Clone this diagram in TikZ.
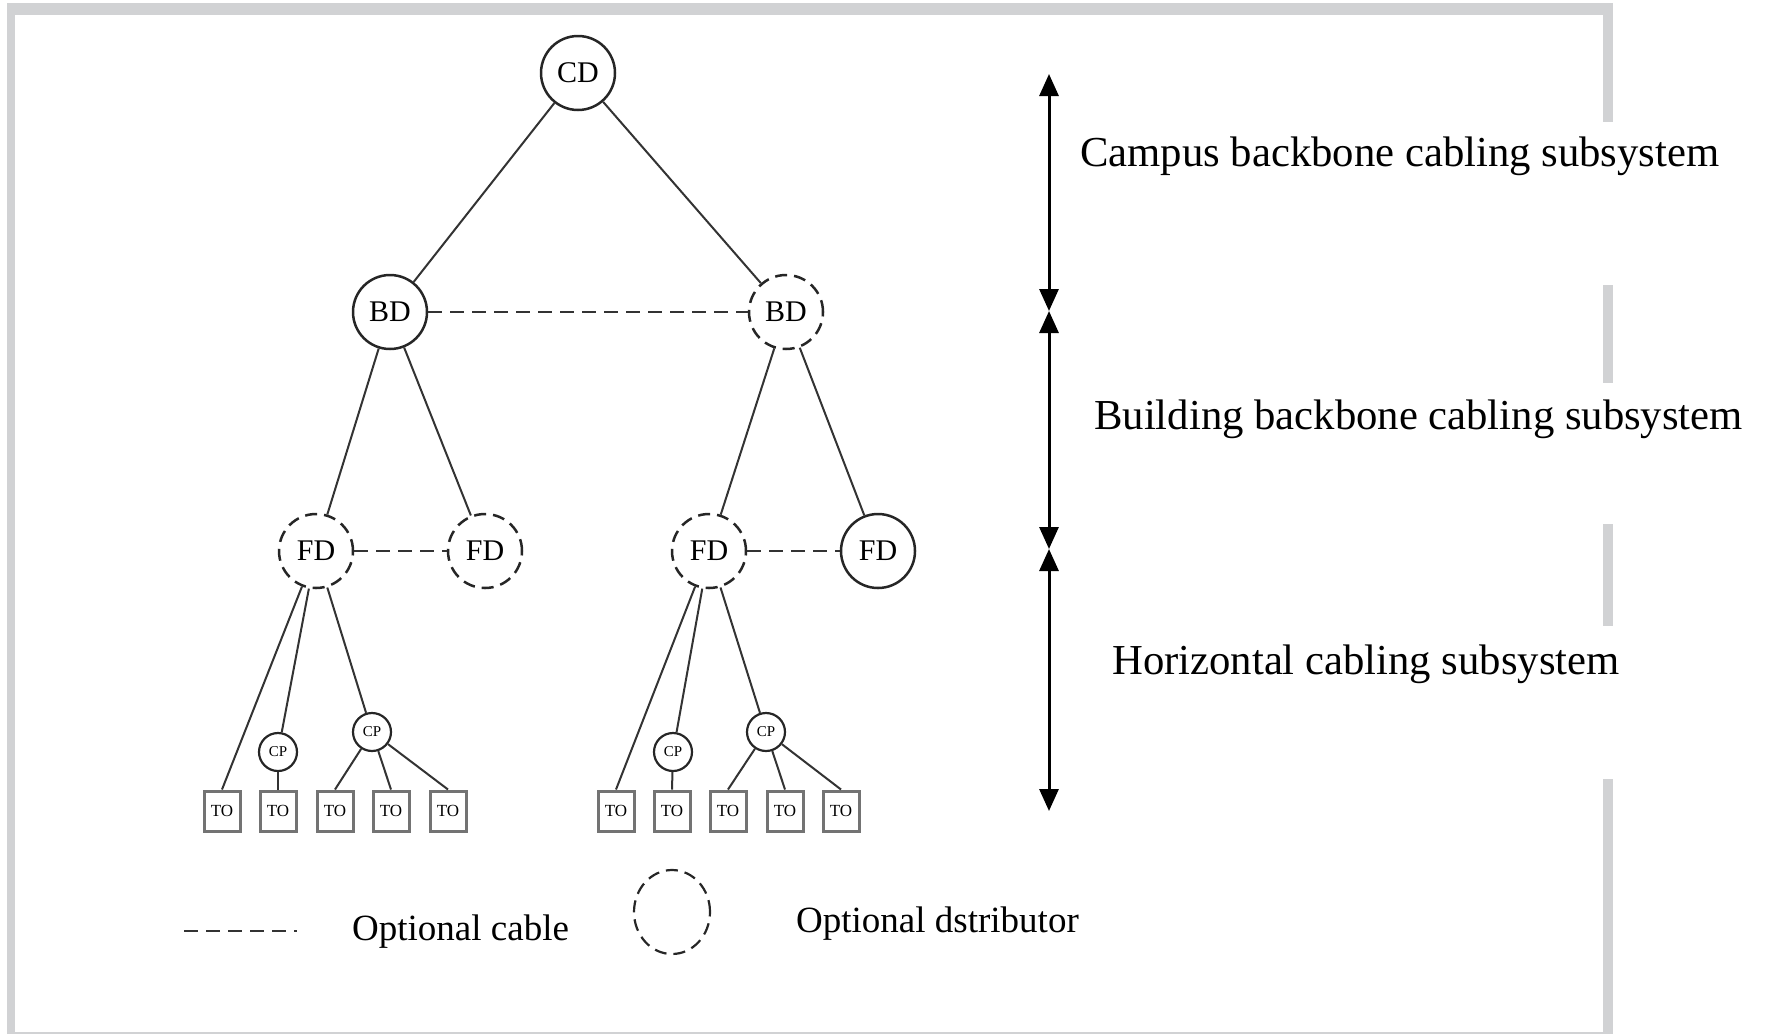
\documentclass[tikz,border=0pt]{standalone}
\usepackage{fontspec}
\setmainfont{Liberation Serif}
\usetikzlibrary{arrows.meta,shapes.geometric}
\definecolor{frameg}{HTML}{D1D2D4}
\begin{document}
\begin{tikzpicture}[x=1pt,y=-1pt,
 dist/.style={circle,draw=black!85,line width=2.5pt,minimum size=74pt,inner sep=0pt,font=\fontsize{30}{32}\selectfont},
 optd/.style={dist,dash pattern=on 12pt off 7pt},
 cpn/.style={circle,draw=black!85,line width=2.2pt,minimum size=38pt,inner sep=0pt,font=\fontsize{15}{17}\selectfont},
 tobox/.style={rectangle,draw=black!55,line width=3pt,minimum width=36pt,minimum height=40pt,inner sep=0pt,font=\fontsize{17}{19}\selectfont},
 cable/.style={draw=black!80,line width=2pt},
 optc/.style={cable,dash pattern=on 14pt off 8pt,line width=2.6pt},
 lbl/.style={anchor=west,inner sep=0pt,font=\fontsize{42.7}{50}\selectfont},
 leg/.style={anchor=west,inner sep=0pt,font=\fontsize{37}{44}\selectfont},
 spanarrow/.style={line width=3pt,{Triangle[width=19pt,length=22pt]}-{Triangle[width=19pt,length=22pt]}},
 framebar/.style={fill=frameg,draw=none}
]
\useasboundingbox (0,0) rectangle (1768,1034);
% frame
\fill[framebar] (7,3) rectangle (1613,15);
\fill[framebar] (7,3) rectangle (15,1034);
\fill[framebar] (7,1032) rectangle (1613,1034);
\fill[framebar] (1603,3) rectangle (1613,122);
\fill[framebar] (1603,285) rectangle (1613,383);
\fill[framebar] (1603,524) rectangle (1613,626);
\fill[framebar] (1603,779) rectangle (1613,1034);

% distributors
\node[dist] (CD) at (578,73) {CD};
\node[dist] (BDL) at (390,312) {BD};
\node[optd] (BDR) at (786,312) {BD};
\node[optd] (FD1) at (316,551) {FD};
\node[optd] (FD2) at (485,551) {FD};
\node[optd] (FD3) at (709,551) {FD};
\node[dist] (FD4) at (878,551) {FD};

% consolidation points
\node[cpn] (CPa) at (278,752) {CP};
\node[cpn] (CPb) at (372,732) {CP};
\node[cpn] (CPc) at (673,752) {CP};
\node[cpn] (CPd) at (766,732) {CP};

% telecommunication outlets
\node[tobox] (T1) at (222,811) {TO};
\node[tobox] (T2) at (278,811) {TO};
\node[tobox] (T3) at (335,811) {TO};
\node[tobox] (T4) at (391,811) {TO};
\node[tobox] (T5) at (448,811) {TO};
\node[tobox] (T6) at (616,811) {TO};
\node[tobox] (T7) at (672,811) {TO};
\node[tobox] (T8) at (728,811) {TO};
\node[tobox] (T9) at (785,811) {TO};
\node[tobox] (T10) at (841,811) {TO};

% cables
\draw[cable] (CD) -- (BDL);
\draw[cable] (CD) -- (BDR);
\draw[optc] (BDL) -- (BDR);
\draw[cable] (BDL) -- (FD1);
\draw[cable] (BDL) -- (FD2);
\draw[cable] (BDR) -- (FD3);
\draw[cable] (BDR) -- (FD4);
\draw[optc] (FD1) -- (FD2);
\draw[optc] (FD3) -- (FD4);

\draw[cable] (FD1) -- (T1.north);
\draw[cable] (FD1) -- (CPa);
\draw[cable] (FD1) -- (CPb);
\draw[cable] (CPa) -- (T2.north);
\draw[cable] (CPb) -- (T3.north);
\draw[cable] (CPb) -- (T4.north);
\draw[cable] (CPb) -- (T5.north);

\draw[cable] (FD3) -- (T6.north);
\draw[cable] (FD3) -- (CPc);
\draw[cable] (FD3) -- (CPd);
\draw[cable] (CPc) -- (T7.north);
\draw[cable] (CPd) -- (T8.north);
\draw[cable] (CPd) -- (T9.north);
\draw[cable] (CPd) -- (T10.north);

% subsystem span arrows
\coordinate (A0) at (1049,74);
\coordinate (A1) at (1049,311);
\coordinate (A2) at (1049,549);
\coordinate (A3) at (1049,811);
\draw[spanarrow] (A0) -- (A1);
\draw[spanarrow] (A1) -- (A2);
\draw[spanarrow] (A2) -- (A3);

\node[lbl] (L1) at (1080,156) {Campus backbone cabling subsystem};
\node[lbl] (L2) at (1094,419) {Building backbone cabling subsystem};
\node[lbl] (L3) at (1112,664) {Horizontal cabling subsystem};

% legend
\coordinate (G0) at (184,931);
\coordinate (G1) at (297,931);
\draw[optc] (G0) -- (G1);
\node[leg] (LG1) at (352,932) {Optional cable};
\node[ellipse,draw=black!85,line width=2.2pt,dash pattern=on 12pt off 7pt,minimum width=76pt,minimum height=84pt,inner sep=0pt] (LGE) at (672,912) {};
\node[leg] (LG2) at (796,924) {Optional dstributor};
\end{tikzpicture}
\end{document}
